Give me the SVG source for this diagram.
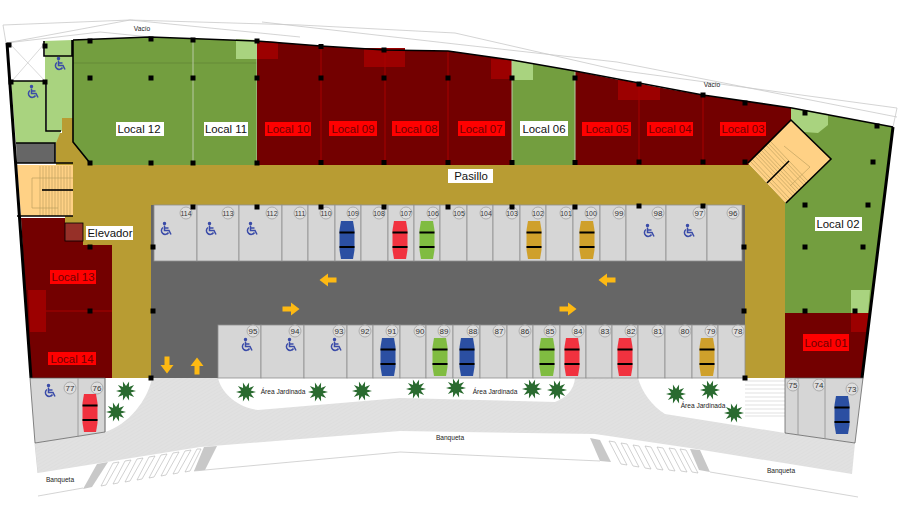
<svg xmlns="http://www.w3.org/2000/svg" xmlns:xlink="http://www.w3.org/1999/xlink" width="900" height="512" viewBox="0 0 900 512">
<style>
text{font-family:"Liberation Sans",Arial,sans-serif;text-anchor:middle;dominant-baseline:central}
.green{fill:#739E3F}.red{fill:#730000}.bath{fill:#A9D37F}.wc{fill:#9C0000}.tan{fill:#B89C33}.stair{fill:#FFD185}
.lb{font-size:11.4px}.w{fill:#fff}.r{fill:#f00}.tw{fill:#111}.tr{fill:#700000}
.sm{font-size:6.6px;fill:#222}
.sp rect{fill:#D6D6D6;stroke:#8f8f8f;stroke-width:.8}
.sp circle{fill:#DEDEDE;stroke:#ADADAD;stroke-width:1}
.sp text{font-size:6.800px;fill:#333}
#spaces-bottom text,#spaces-corner text,#p99 text,#p98 text,#p97 text,#p96 text{font-size:8px}
.wall{fill:none;stroke:#000;stroke-width:1.6}
.thick{fill:none;stroke:#000;stroke-width:3}
.thin{fill:none;stroke:#C9C9C9;stroke-width:.8}
.step{fill:none;stroke:#B59A5A;stroke-width:.6}
.div{stroke:#A80000;stroke-width:1;fill:none}
.lt{stroke:#B9C9A5;stroke-width:1;fill:none}
.arrow{fill:#FDB913}
.palm{fill:#2A6B30}
.col{fill:#000}
</style>
<defs>
<pattern id="hatch" width="3" height="3" patternUnits="userSpaceOnUse" patternTransform="rotate(-30)"><rect width="3" height="3" fill="#E1E1E1"/><path d="M0 1.500H3" stroke="#DADADA" stroke-width=".5"/></pattern>
<g id="car"><path d="M-6 -19H6L7.500 -10V10L6 19H-6L-7.500 10V-10Z"/><path d="M-7.500 -7.500H7.500M-7.500 7H7.500" stroke="#000" stroke-width="2.200"/></g>
<g id="hc" fill="none" stroke="#3A4BA8" stroke-width="1.500"><circle cx="-1.500" cy="-5.500" r="1" fill="#3A4BA8"/><path d="M-1.500 -3.500V1.500H3L5 5.500"/><path d="M-1.500 -1H2.500"/><path d="M-3 -1.500A3.800 3.800 0 1 0 2.500 3.500"/></g>
<polygon id="palm" points="10,0 4.760,1.550 8.090,5.880 2.940,4.050 3.090,9.510 0,5 -3.090,9.510 -2.940,4.050 -8.090,5.880 -4.760,1.550 -10,0 -4.760,-1.550 -8.090,-5.880 -2.940,-4.050 -3.090,-9.510 0,-5 3.090,-9.510 2.940,-4.050 8.090,-5.880 4.760,-1.550"/>
<path id="arrowR" d="M-8.500 -2.500H0V-6.500L8.500 0L0 6.500V2.500H-8.500Z"/>
<rect id="c" x="-2.500" y="-2.500" width="5" height="5"/>
</defs>
<rect width="900" height="512" fill="#fff"/>

<g id="outer-lines" class="thin">
<path d="M3 25L130 20L300 25L455 33L617 70L897 108L893 127M3 25L6 43L130 20M130 20L300 37M262 22L455 44L617 62L897 117"/>
<path d="M6 43L100 32L150 37M38 473L35 443M38 496L83 488M194 471L400 452L600 461M710 472L858 497"/>
</g>

<g id="road">
<path d="M152 378H218C222 395 240 408 258 410L400 398L555 402C566 398 574 390 575 378H638C642 392 652 406 665 414L785 433L855 443L852 474L690 448L595 434L400 431L200 447L38 473L35 443L105 432C128 425 148 400 152 378Z" fill="url(#hatch)"/>
<polygon points="97,464 108,462 92,487 83,489" fill="#C8C8C8"/>
<polygon points="204,447 217,446 205,470 194,471" fill="#C8C8C8"/>
<polygon points="590,438 600,440 611,462 600,461" fill="#C8C8C8"/>
<polygon points="690,449 700,450 710,472 699,470" fill="#C8C8C8"/>
<g fill="#fff" stroke="#BDBDBD" stroke-width=".7">
<path d="M113 463L119 462L106 485L101 486Z M125 461L131 460L118 483L113 484Z M137 459L143 458L130 481L125 482Z M149 457L155 456L142 479L137 480Z M161 455L167 454L154 477L149 478Z M173 453L179 452L166 475L161 476Z M185 451L191 450L178 473L173 474Z M197 449L201 449L190 471L185 472Z"/>
<path d="M609 441L615 442L627 465L621 464Z M621 443L627 444L639 467L633 466Z M633 445L639 446L651 469L645 468Z M645 446L651 447L663 470L657 469Z M657 447L663 448L675 471L669 470Z M669 448L675 449L687 472L681 471Z M680 449L686 450L698 473L692 472Z"/>
</g>
<path d="M745 381H785M745 385H785M745 389H785M745 393H785M745 397H785M745 401H785M745 405H785M745 409H785M745 413H785M745 416H785" stroke="#CFCFCF" stroke-width=".6" fill="none"/>
</g>

<g id="pasillo-area">
<path class="tan" d="M62 118H73V140H95V163H748L786 203V378H745V205H151V378H112V245H83V223H65V165H56V133H62Z"/>
</g>

<g id="parking-floor"><rect x="151" y="205" width="594" height="173" fill="#666"/></g>

<g id="local-12"><path class="green" d="M73 40L150 37L193 38.500V165H90L73 142Z"/><path d="M73 63H193" stroke="#5E8233" stroke-width=".7"/><rect x="116" y="122" width="48" height="14" class="w"/><text x="139" y="129" class="lb tw">Local 12</text></g>
<g id="local-11"><path class="green" d="M193 38.500L257 41V165H193Z"/><path d="M193 63H257" stroke="#5E8233" stroke-width=".7"/><path class="bath" d="M236 39L257 40V59H236Z"/><path class="lt" d="M193 40V165M257 41V165"/><rect x="204" y="122" width="44" height="14" class="w"/><text x="226" y="129" class="lb tw">Local 11</text></g>
<g id="locals-red-top"><path class="red" d="M257 41L321 46L385 50L448 51L512 60V165H257Z"/><path class="red" d="M575 71L639 84L703 95L792 108L791 120L748 165H575Z"/>
<path class="wc" d="M257 41L278 42V59H257ZM364 48H405V67H364ZM491 59L512 60V79H491ZM618 79L660 88V100H618Z"/>
<path class="div" d="M321 46V165M385 50V165M448 51V165M639 84V165M703 95V165"/></g>
<g id="local-10"><rect x="265" y="122" width="46" height="14" class="r"/><text x="288" y="129" class="lb tr">Local 10</text></g>
<g id="local-09"><rect x="329" y="121" width="48" height="15" class="r"/><text x="353" y="129" class="lb tr">Local 09</text></g>
<g id="local-08"><rect x="392" y="121" width="47" height="15" class="r"/><text x="416" y="129" class="lb tr">Local 08</text></g>
<g id="local-07"><rect x="458" y="121" width="47" height="15" class="r"/><text x="481" y="129" class="lb tr">Local 07</text></g>
<g id="local-06"><path class="green" d="M512 60L575 71V165H512Z"/><path class="bath" d="M512 60L533 64V80H512Z"/><path class="lt" d="M512 60V165M575 71V165"/><rect x="520" y="121" width="48" height="15" class="w"/><text x="544" y="129" class="lb tw">Local 06</text></g>
<g id="local-05"><rect x="582" y="122" width="49" height="14" class="r"/><text x="607" y="129" class="lb tr">Local 05</text></g>
<g id="local-04"><rect x="647" y="122" width="46" height="14" class="r"/><text x="670" y="129" class="lb tr">Local 04</text></g>
<g id="local-03"><rect x="720" y="122" width="46" height="14" class="r"/><text x="743" y="129" class="lb tr">Local 03</text></g>
<g id="local-02"><path class="green" d="M792 108L893 127L870 313H785V203L831 159L791 120Z"/><path class="bath" d="M791 108L828 114V125L818 133L804 132L791 120ZM851 290H870L868 313H851Z"/><rect x="815" y="217" width="47" height="14" class="w"/><text x="838" y="224" class="lb tw">Local 02</text></g>
<g id="local-01"><path class="red" d="M785 313H870L862 378H785Z"/><path class="wc" d="M851 313H869L866 332H851Z"/><rect x="803" y="334" width="46" height="17" class="r"/><text x="826" y="343" class="lb tr">Local 01</text></g>
<g id="local-13"><path class="red" d="M21 218H65V241H83V245H112V311H26Z"/><rect x="50" y="270" width="46" height="14" class="r"/><text x="73" y="277" class="lb tr">Local 13</text></g>
<g id="local-14"><path class="red" d="M26 311H112V378H31Z"/><path class="wc" d="M28 290H46V332H30Z"/><path class="div" d="M46 311H112"/><rect x="48" y="352" width="48" height="13" class="r"/><text x="72" y="358.500" class="lb tr">Local 14</text></g>

<g id="services">
<path class="bath" d="M11 81H46V131H61L56 143H16Z"/>
<path class="bath" d="M44 41L73 40V118H62V131H47V81H44Z"/>
<path d="M10 44L45 43V81H12Z" fill="#fff"/><path d="M10 44L45 81M45 43L12 81" stroke="#C9C9C9" stroke-width=".7"/>
<path d="M16 143H55V163H17Z" fill="#666"/>
<path class="stair" d="M17 165H73V216H21Z"/>
<path class="step" d="M40 166V216M43 166V216M46 166V216M49 166V216M52 166V216M55 166V216M58 166V216M61 166V216M64 166V216M67 166V216M70 166V216M32 178H73M32 178V208H58"/>
<path class="stair" d="M748 163L791 120L831 159L786 203Z"/>
<path class="step" d="M750 161l38 40M752 159l38 40M755 156l38 40M757 154l38 40M759 152l38 40M761 150l38 40M763 148l38 40M766 145l38 40M768 143l38 40M770 141l38 40M784 146l26 21L790 186"/>
<rect x="65" y="223" width="18" height="18" fill="#963028" stroke="#000" stroke-width=".8"/>
</g>
<g id="walls">
<path class="thick" d="M7 43L31 378M893 127L862 378"/>
<path class="wall" d="M73 40L150 37L257 41L321 46L385 50L448 51L512 60L575 71L703 95L792 108L893 127"/>
<path class="wall" d="M73 40V142L90 163M12 81H46V131H61M44 41V56H72V40M16 143H55V163M17 163H73M17 216H73"/>
<path class="wall" d="M42 190H73" stroke-width="2"/>
<path class="wall" d="M748 163L791 120L831 159L786 203M767 183L789 161" stroke-width="1.800"/>
<path d="M30 378H105V432L35 443ZM785 378H863L855 443L785 433Z" fill="#D6D6D6" stroke="#555" stroke-width=".7"/>
<path d="M78 378V437M105 378V432M798 378V435M825 378V439" stroke="#8f8f8f" stroke-width=".8" fill="none"/>
</g>

<g id="spaces-top" class="sp">
<g id="p114"><rect x="154" y="205" width="43" height="56"/><circle cx="186" cy="213" r="6"/><text x="186" y="213">114</text></g>
<g id="p113"><rect x="197" y="205" width="42" height="56"/><circle cx="228" cy="213" r="6"/><text x="228" y="213">113</text></g>
<g id="p112"><rect x="239" y="205" width="43" height="56"/><circle cx="272" cy="213" r="6"/><text x="272" y="213">112</text></g>
<g id="p111"><rect x="282" y="205" width="26" height="56"/><circle cx="300" cy="213" r="6"/><text x="300" y="213">111</text></g>
<g id="p110"><rect x="308" y="205" width="27" height="56"/><circle cx="326" cy="213" r="6"/><text x="326" y="213">110</text></g>
<g id="p109"><rect x="335" y="205" width="26" height="56"/><circle cx="353" cy="213" r="6"/><text x="353" y="213">109</text></g>
<g id="p108"><rect x="361" y="205" width="27" height="56"/><circle cx="379" cy="213" r="6"/><text x="379" y="213">108</text></g>
<g id="p107"><rect x="388" y="205" width="26" height="56"/><circle cx="406" cy="213" r="6"/><text x="406" y="213">107</text></g>
<g id="p106"><rect x="414" y="205" width="26" height="56"/><circle cx="433" cy="213" r="6"/><text x="433" y="213">106</text></g>
<g id="p105"><rect x="440" y="205" width="27" height="56"/><circle cx="459" cy="213" r="6"/><text x="459" y="213">105</text></g>
<g id="p104"><rect x="467" y="205" width="26" height="56"/><circle cx="486" cy="213" r="6"/><text x="486" y="213">104</text></g>
<g id="p103"><rect x="493" y="205" width="27" height="56"/><circle cx="512" cy="213" r="6"/><text x="512" y="213">103</text></g>
<g id="p102"><rect x="520" y="205" width="26" height="56"/><circle cx="538" cy="213" r="6"/><text x="538" y="213">102</text></g>
<g id="p101"><rect x="546" y="205" width="27" height="56"/><circle cx="566" cy="213" r="6"/><text x="566" y="213">101</text></g>
<g id="p100"><rect x="573" y="205" width="27" height="56"/><circle cx="591" cy="213" r="6"/><text x="591" y="213">100</text></g>
<g id="p99"><rect x="600" y="205" width="26" height="56"/><circle cx="619" cy="213" r="6"/><text x="619" y="213">99</text></g>
<g id="p98"><rect x="626" y="205" width="40" height="56"/><circle cx="658" cy="213" r="6"/><text x="658" y="213">98</text></g>
<g id="p97"><rect x="666" y="205" width="41" height="56"/><circle cx="699" cy="213" r="6"/><text x="699" y="213">97</text></g>
<g id="p96"><rect x="707" y="205" width="35" height="56"/><circle cx="733" cy="213" r="6"/><text x="733" y="213">96</text></g>
</g>
<g id="spaces-bottom" class="sp">
<g id="p95"><rect x="218" y="325" width="43" height="53"/><circle cx="253" cy="331" r="6"/><text x="253" y="331">95</text></g>
<g id="p94"><rect x="261" y="325" width="43" height="53"/><circle cx="295" cy="331" r="6"/><text x="295" y="331">94</text></g>
<g id="p93"><rect x="304" y="325" width="43" height="53"/><circle cx="339" cy="331" r="6"/><text x="339" y="331">93</text></g>
<g id="p92"><rect x="347" y="325" width="26" height="53"/><circle cx="365" cy="331" r="6"/><text x="365" y="331">92</text></g>
<g id="p91"><rect x="373" y="325" width="27" height="53"/><circle cx="392" cy="331" r="6"/><text x="392" y="331">91</text></g>
<g id="p90"><rect x="400" y="325" width="26" height="53"/><circle cx="420" cy="331" r="6"/><text x="420" y="331">90</text></g>
<g id="p89"><rect x="426" y="325" width="27" height="53"/><circle cx="444" cy="331" r="6"/><text x="444" y="331">89</text></g>
<g id="p88"><rect x="453" y="325" width="27" height="53"/><circle cx="473" cy="331" r="6"/><text x="473" y="331">88</text></g>
<g id="p87"><rect x="480" y="325" width="27" height="53"/><circle cx="499" cy="331" r="6"/><text x="499" y="331">87</text></g>
<g id="p86"><rect x="507" y="325" width="26" height="53"/><circle cx="525" cy="331" r="6"/><text x="525" y="331">86</text></g>
<g id="p85"><rect x="533" y="325" width="27" height="53"/><circle cx="550" cy="331" r="6"/><text x="550" y="331">85</text></g>
<g id="p84"><rect x="560" y="325" width="26" height="53"/><circle cx="578" cy="331" r="6"/><text x="578" y="331">84</text></g>
<g id="p83"><rect x="586" y="325" width="26" height="53"/><circle cx="605" cy="331" r="6"/><text x="605" y="331">83</text></g>
<g id="p82"><rect x="612" y="325" width="26" height="53"/><circle cx="631" cy="331" r="6"/><text x="631" y="331">82</text></g>
<g id="p81"><rect x="638" y="325" width="27" height="53"/><circle cx="658" cy="331" r="6"/><text x="658" y="331">81</text></g>
<g id="p80"><rect x="665" y="325" width="27" height="53"/><circle cx="685" cy="331" r="6"/><text x="685" y="331">80</text></g>
<g id="p79"><rect x="692" y="325" width="26" height="53"/><circle cx="711" cy="331" r="6"/><text x="711" y="331">79</text></g>
<g id="p78"><rect x="718" y="325" width="27" height="53"/><circle cx="738" cy="331" r="6"/><text x="738" y="331">78</text></g>
</g>
<g id="spaces-corner" class="sp">
<g id="p77"><circle cx="70" cy="388" r="6"/><text x="70" y="388">77</text></g>
<g id="p76"><circle cx="97" cy="388" r="6"/><text x="97" y="388">76</text></g>
<g id="p75"><circle cx="793" cy="385" r="6"/><text x="793" y="385">75</text></g>
<g id="p74"><circle cx="819" cy="385" r="6"/><text x="819" y="385">74</text></g>
<g id="p73"><circle cx="852" cy="389" r="6"/><text x="852" y="389">73</text></g>
</g>

<g id="cars">
<use href="#car" x="347" y="240" fill="#2B4FA2"/><use href="#car" x="400" y="240" fill="#F1323F"/><use href="#car" x="427" y="240" fill="#80BC41"/><use href="#car" x="534" y="240" fill="#CFA02B"/><use href="#car" x="587" y="240" fill="#CFA02B"/>
<use href="#car" x="388" y="357" fill="#2B4FA2"/><use href="#car" x="440" y="357" fill="#80BC41"/><use href="#car" x="467" y="357" fill="#2B4FA2"/><use href="#car" x="547" y="357" fill="#80BC41"/><use href="#car" x="572" y="357" fill="#F1323F"/><use href="#car" x="625" y="357" fill="#F1323F"/><use href="#car" x="707" y="357" fill="#CFA02B"/>
<use href="#car" x="90" y="413" fill="#F1323F"/><use href="#car" x="842" y="415" fill="#2B4FA2"/>
</g>
<g id="accessible">
<use href="#hc" x="166" y="229"/><use href="#hc" x="211" y="229"/><use href="#hc" x="252" y="229"/><use href="#hc" x="649" y="231"/><use href="#hc" x="689" y="231"/>
<use href="#hc" x="247" y="345"/><use href="#hc" x="291" y="345"/><use href="#hc" x="336" y="345"/><use href="#hc" x="50" y="391"/><use href="#hc" x="60" y="64"/><use href="#hc" x="33" y="92"/>
</g>
<g id="arrows" class="arrow">
<use href="#arrowR" transform="translate(328 280) rotate(180)"/><use href="#arrowR" transform="translate(607 280) rotate(180)"/>
<use href="#arrowR" transform="translate(291 309)"/><use href="#arrowR" transform="translate(568 309)"/>
<use href="#arrowR" transform="translate(167 365) rotate(90)"/><use href="#arrowR" transform="translate(197 366) rotate(-90)"/>
</g>
<g id="palms" class="palm">
<use href="#palm" x="126" y="391"/><use href="#palm" x="116" y="412"/><use href="#palm" x="246" y="392"/><use href="#palm" x="318" y="392"/><use href="#palm" x="362" y="391"/><use href="#palm" x="416" y="389"/><use href="#palm" x="456" y="388"/><use href="#palm" x="532" y="389"/><use href="#palm" x="557" y="390"/><use href="#palm" x="676" y="394"/><use href="#palm" x="710" y="390"/><use href="#palm" x="734" y="413"/>
</g>
<g id="columns" class="col">
<use href="#c" x="90" y="41"/><use href="#c" x="151" y="39"/><use href="#c" x="193" y="40"/><use href="#c" x="257" y="41"/><use href="#c" x="90" y="78"/><use href="#c" x="151" y="78"/><use href="#c" x="193" y="78"/><use href="#c" x="257" y="78"/><use href="#c" x="90" y="163"/><use href="#c" x="151" y="163"/><use href="#c" x="193" y="163"/><use href="#c" x="257" y="163"/>
<use href="#c" x="45" y="46"/><use href="#c" x="45" y="82"/><use href="#c" x="11" y="82"/><use href="#c" x="9" y="45"/>
<use href="#c" x="193" y="207"/><use href="#c" x="257" y="207"/><use href="#c" x="153" y="247"/><use href="#c" x="90" y="247"/>
<use href="#c" x="321" y="46.500"/><use href="#c" x="384" y="50"/><use href="#c" x="321" y="78"/><use href="#c" x="384" y="78"/><use href="#c" x="448" y="78"/><use href="#c" x="512" y="78"/><use href="#c" x="575" y="78"/>
<use href="#c" x="321" y="162.500"/><use href="#c" x="384" y="162.500"/><use href="#c" x="448" y="162.500"/><use href="#c" x="512" y="162.500"/><use href="#c" x="575" y="162.500"/>
<use href="#c" x="321" y="207"/><use href="#c" x="384" y="207"/><use href="#c" x="448" y="207"/><use href="#c" x="512" y="207"/><use href="#c" x="575" y="207"/>
<use href="#c" x="639" y="84"/><use href="#c" x="703" y="95"/><use href="#c" x="745" y="103"/><use href="#c" x="805" y="113"/><use href="#c" x="877" y="126"/>
<use href="#c" x="639" y="162"/><use href="#c" x="703" y="162"/><use href="#c" x="745" y="162"/><use href="#c" x="639" y="206"/><use href="#c" x="703" y="206"/>
<use href="#c" x="873" y="162"/><use href="#c" x="805" y="205"/><use href="#c" x="868" y="205"/><use href="#c" x="805" y="247"/><use href="#c" x="863" y="247"/><use href="#c" x="744" y="247"/><use href="#c" x="805" y="311"/><use href="#c" x="855" y="311"/><use href="#c" x="744" y="311"/>
<use href="#c" x="90" y="311"/><use href="#c" x="153" y="311"/><use href="#c" x="151" y="378"/><use href="#c" x="745" y="378"/>
</g>
<g id="labels">
<rect x="86" y="226" width="47" height="14" class="w"/><text x="110" y="233" class="lb tw">Elevador</text>
<rect x="448" y="169" width="45" height="14" class="w"/><text x="471" y="176" class="lb tw">Pasillo</text>
<text x="142" y="28" class="sm">Vacío</text><text x="712" y="84" class="sm">Vacío</text>
<text x="283" y="391" class="sm">Área Jardinada</text><text x="495" y="391" class="sm">Área Jardinada</text><text x="703" y="405" class="sm">Área Jardinada</text>
<text x="450" y="437" class="sm">Banqueta</text><text x="60" y="479" class="sm">Banqueta</text><text x="781" y="470" class="sm">Banqueta</text>
</g>
</svg>
